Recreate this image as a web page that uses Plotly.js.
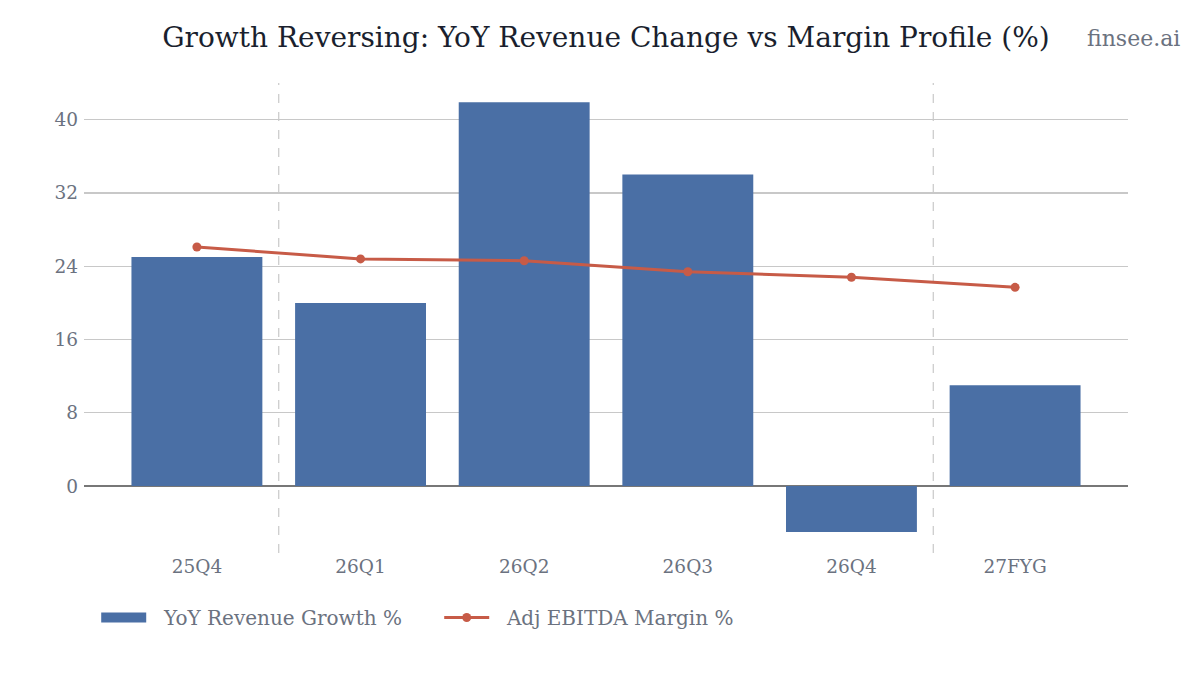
<!DOCTYPE html>
<html>
<head>
<meta charset="utf-8">
<script src="https://cdn.plot.ly/plotly-3.0.1.min.js"></script>
<style>
  html, body { margin: 0; padding: 0; background: #fff; }
  #chart { width: 1200px; height: 675px; }
</style>
</head>
<body>
<div id="chart"></div>
<script>
const periods = ['25Q4', '26Q1', '26Q2', '26Q3', '26Q4', '27FYG']
const revenueGrowth = [25, 20, 41.9, 34, -5, 11]
const ebitdaMargin = [26.1, 24.8, 24.6, 23.4, 22.8, 21.7]
const dividerAt = [0.5, 4.5]

const COLOR_BAR = '#4a6fa5'
const COLOR_LINE = '#c75b47'
const COLOR_TEXT = '#6b7280'
const FONT = 'DejaVu Serif, serif'
const PAD = '\u00a0\u00a0'

const traces = [
  {
    x: periods,
    y: revenueGrowth,
    type: 'bar',
    name: 'YoY Revenue Growth %',
    marker: { color: COLOR_BAR },
    showlegend: false
  },
  // legend entry only: wide swatch for the bars
  {
    x: [null],
    y: [null],
    type: 'scatter',
    mode: 'lines',
    name: PAD + 'YoY Revenue Growth %',
    line: { color: COLOR_BAR, width: 14 },
    hoverinfo: 'skip'
  },
  {
    x: periods,
    y: ebitdaMargin,
    type: 'scatter',
    mode: 'lines+markers',
    name: PAD + 'Adj EBITDA Margin %',
    line: { color: COLOR_LINE, width: 3 },
    marker: { color: COLOR_LINE, size: 9 }
  }
]

const shapes = dividerAt.map(x => ({
  type: 'line',
  xref: 'x',
  yref: 'paper',
  x0: x,
  x1: x,
  y0: 0,
  y1: 1,
  line: { color: '#c8c8c8', width: 1.2, dash: 'dash' },
  layer: 'below'
}))

const layout = {
  width: 1200,
  height: 675,
  margin: { l: 84, r: 72, t: 83, b: 122 },
  paper_bgcolor: '#ffffff',
  plot_bgcolor: '#ffffff',
  font: { family: FONT, color: COLOR_TEXT, size: 18.5 },
  title: {
    text: 'Growth Reversing: YoY Revenue Change vs Margin Profile (%)',
    font: { family: FONT, size: 28, color: '#1a1f2e' },
    x: 0.505,
    xanchor: 'center',
    y: 0.945,
    yanchor: 'middle'
  },
  bargap: 0.2,
  showlegend: true,
  legend: {
    orientation: 'h',
    x: 0.0117,
    xanchor: 'left',
    y: -0.0957,
    yanchor: 'top',
    font: { family: FONT, size: 20, color: COLOR_TEXT },
    itemwidth: 45,
    entrywidth: 283,
    entrywidthmode: 'pixels',
    traceorder: 'normal'
  },
  xaxis: {
    type: 'category',
    range: [-0.69, 5.69],
    showgrid: false,
    zeroline: false,
    showline: false,
    ticks: '',
    tickfont: { family: FONT, size: 18.5, color: COLOR_TEXT }
  },
  yaxis: {
    range: [-7.3, 44],
    tickvals: [0, 8, 16, 24, 32, 40],
    showgrid: true,
    gridcolor: '#c8c8c8',
    gridwidth: 1.2,
    zeroline: true,
    zerolinecolor: '#777777',
    zerolinewidth: 2.5,
    ticks: '',
    ticklabelstandoff: 5,
    tickfont: { family: FONT, size: 18.5, color: COLOR_TEXT }
  },
  shapes: shapes,
  annotations: [
    {
      text: 'finsee.ai',
      xref: 'paper',
      yref: 'paper',
      x: 1.0517,
      xanchor: 'right',
      y: 1.094,
      yanchor: 'middle',
      showarrow: false,
      font: { family: FONT, size: 22, color: COLOR_TEXT }
    }
  ]
}

Plotly.newPlot('chart', traces, layout, { displayModeBar: false, staticPlot: true })
</script>
</body>
</html>
